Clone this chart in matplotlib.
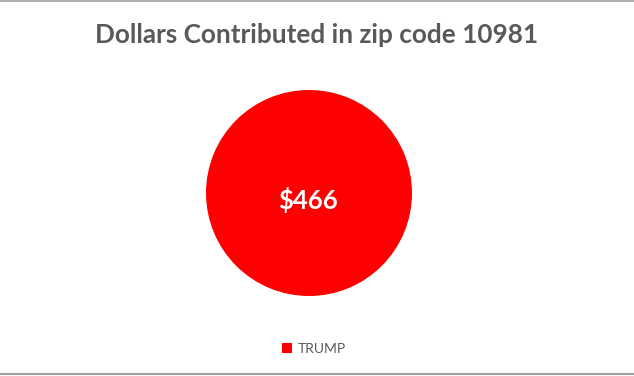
import matplotlib.pyplot as plt
from matplotlib.lines import Line2D
from matplotlib.patches import Patch

# data
candidates = ["TRUMP"]
amounts = [466]
colors = ["#ff0000"]

W, H = 634, 376
fig = plt.figure(figsize=(W / 100, H / 100), dpi=100)
fig.patch.set_facecolor("white")

# pie axes, placed in pixel terms
cx, cy, r = 309, 193, 103
ax = fig.add_axes([(cx - r) / W, (H - cy - r) / H, 2 * r / W, 2 * r / H])
wedges, texts = ax.pie(amounts, colors=colors, startangle=90, radius=1,
                       wedgeprops=dict(linewidth=0))
ax.set_xlim(-1, 1)
ax.set_ylim(-1, 1)
ax.set_aspect("equal")
ax.axis("off")
for w, v in zip(wedges, amounts):
    ax.text(-0.01, -0.07, "${:,}".format(v), ha="center", va="center",
            color="white", fontsize=18.5, fontweight="bold", family="Lato")

fig.text(317 / W, 1 - 35 / H, "Dollars Contributed in zip code 10981",
         ha="center", va="center", fontsize=18.8, fontweight="bold",
         color="#595959", family="Lato")

handles = [Patch(facecolor=c, edgecolor="none") for c in colors]
leg = fig.legend(handles, candidates, loc="center", bbox_to_anchor=(314 / W, 1 - 349 / H),
                 frameon=False, handlelength=0.7, handleheight=0.7, handletextpad=0.4,
                 prop={"family": "Lato", "size": 10})
for t in leg.get_texts():
    t.set_color("#595959")

# chart border lines top and bottom
fig.add_artist(Line2D([0, 1], [1 - 0.5 / H, 1 - 0.5 / H], color="#a0a0a0", lw=1.2))
fig.add_artist(Line2D([0, 1], [1 - 374 / H, 1 - 374 / H], color="#a0a0a0", lw=1.5))

fig.savefig("out.png", dpi=100, facecolor="white")
